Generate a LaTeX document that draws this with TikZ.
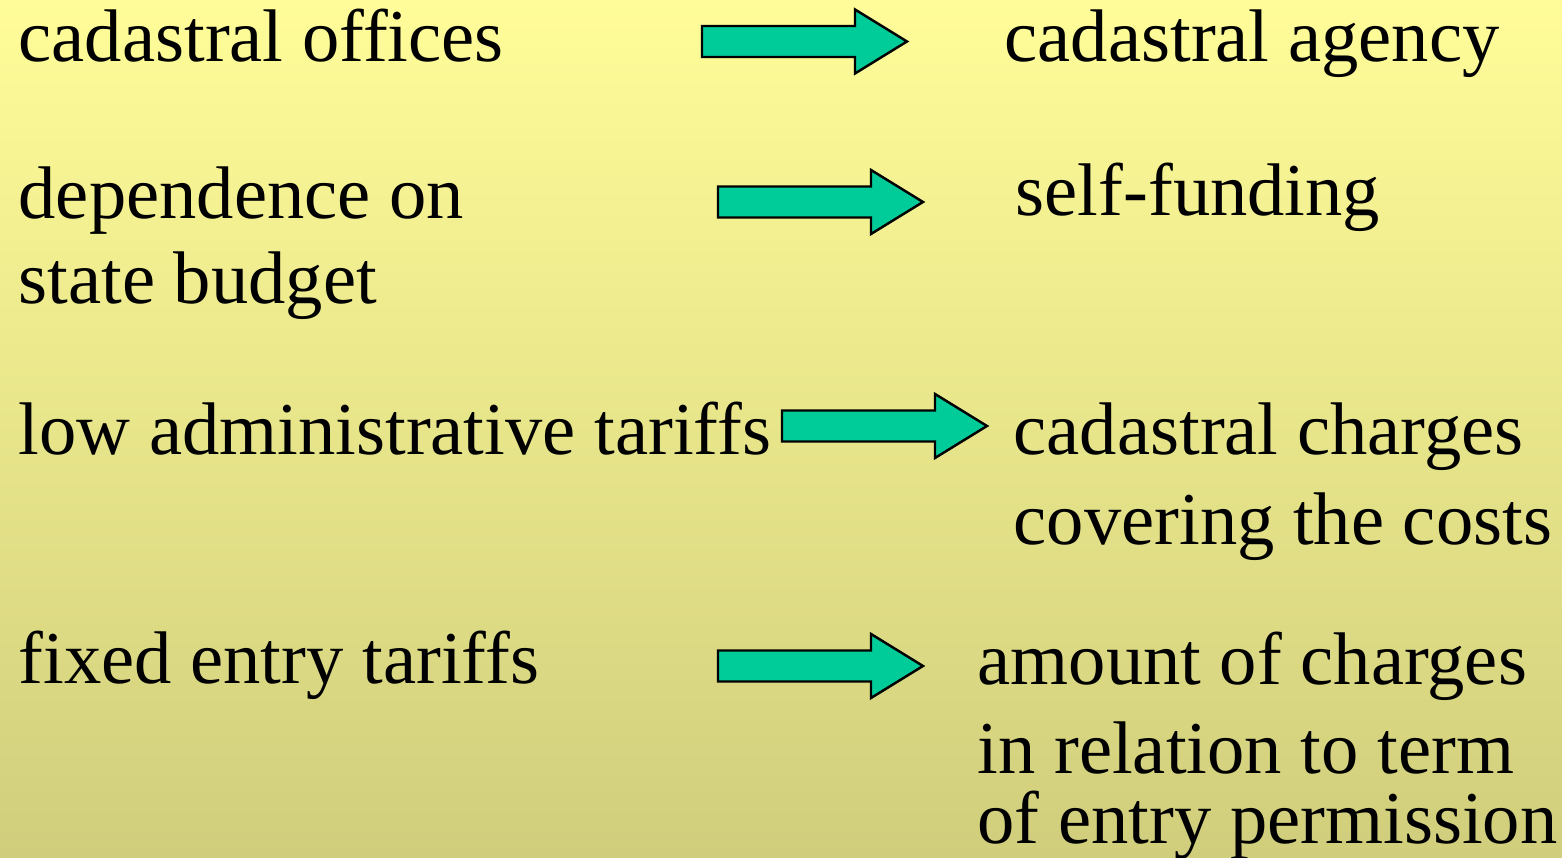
\documentclass[tikz,border=0pt]{standalone}
\usepackage{fontspec}
\setmainfont{Liberation Serif}
\definecolor{bgtop}{RGB}{255,252,153}
\definecolor{bgbot}{RGB}{208,206,124}
\definecolor{arrowfill}{RGB}{0,204,153}
\begin{document}
\begin{tikzpicture}[x=0.01cm,y=-0.01cm,
  txt/.style={anchor=base west,inner sep=0pt,font=\fontsize{21.2}{25}\selectfont},
  blockarrow/.pic={
    \draw[fill=arrowfill,draw=black,line width=0.7pt,line join=miter]
      (0,-15.5) -- (153,-15.5) -- (153,-32) -- (205,0) -- (153,32) -- (153,15.5) -- (0,15.5) -- cycle;
  }]
\shade[top color=bgtop,bottom color=bgbot] (0,0) rectangle (1562,858);
\useasboundingbox (0,0) rectangle (1562,858);
% left texts
\node[txt] (l1) at (18,62) {cadastral offices};
\node[txt] (l2a) at (18,219) {dependence on};
\node[txt] (l2b) at (18,304) {state budget};
\node[txt] (l3) at (18,455) {low administrative tariffs};
\node[txt] (l4) at (18,684) {fixed entry tariffs};
% right texts
\node[txt] (r1) at (1004,62) {cadastral agency};
\node[txt] (r2) at (1015,216) {self-funding};
\node[txt] (r3a) at (1013,455) {cadastral charges};
\node[txt] (r3b) at (1013,545) {covering the costs};
\node[txt] (r4a) at (977,685) {amount of charges};
\node[txt] (r4b) at (977,774) {in relation to term};
\node[txt] (r4c) at (977,844) {of entry permission};
% arrows
\pic (a1) at (702,41.5) {blockarrow};
\pic (a2) at (718,202) {blockarrow};
\pic (a3) at (782,426) {blockarrow};
\pic (a4) at (718,666) {blockarrow};
\end{tikzpicture}
\end{document}
